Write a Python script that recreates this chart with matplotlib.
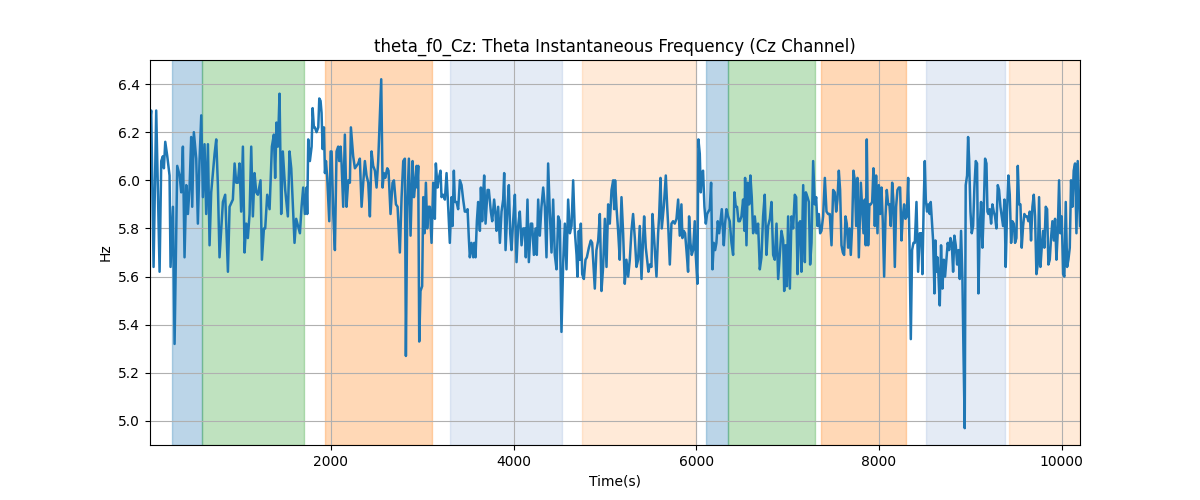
import matplotlib
matplotlib.use("Agg")
import matplotlib.pyplot as plt

time_s = [
    20, 33, 59, 88, 125, 143, 161, 172, 187, 209, 234, 245, 271, 289, 318, 344, 362, 380, 398, 417,
    435, 453, 471, 482, 500, 526, 544, 562, 581, 599, 617, 635, 654, 672, 690, 727, 745, 763, 781, 818,
    843, 873, 891, 927, 946, 964, 982, 1000, 1018, 1037, 1055, 1073, 1091, 1110, 1128, 1146, 1164, 1183, 1201, 1230,
    1245, 1267, 1281, 1303, 1329, 1354, 1376, 1390, 1405, 1420, 1438, 1456, 1474, 1500, 1529, 1547, 1566, 1584, 1602, 1620,
    1661, 1679, 1697, 1716, 1734, 1741, 1752, 1770, 1789, 1800, 1814, 1825, 1843, 1862, 1873, 1887, 1898, 1909, 1924, 1935,
    1946, 1960, 1982, 1997, 2008, 2026, 2044, 2062, 2080, 2091, 2106, 2117, 2135, 2153, 2171, 2190, 2208, 2219, 2244, 2263,
    2281, 2299, 2317, 2336, 2354, 2372, 2390, 2409, 2427, 2445, 2463, 2482, 2500, 2518, 2536, 2551, 2566, 2580, 2595, 2617,
    2631, 2653, 2675, 2690, 2712, 2730, 2755, 2774, 2792, 2810, 2821, 2836, 2854, 2872, 2894, 2909, 2920, 2938, 2945, 2956,
    2967, 2981, 2999, 3011, 3025, 3040, 3054, 3069, 3083, 3102, 3120, 3138, 3149, 3167, 3182, 3200, 3211, 3229, 3248, 3266,
    3284, 3302, 3321, 3332, 3346, 3357,
    3375, 3393, 3412, 3430, 3448, 3466, 3485, 3496, 3510, 3521, 3539, 3558, 3569, 3583, 3598, 3612, 3631, 3642, 3656, 3667,
    3678, 3693, 3715, 3729, 3751, 3766, 3787, 3802, 3813, 3831, 3850, 3868, 3886, 3897, 3912, 3933, 3948, 3963, 3977, 3995,
    4014, 4032, 4050, 4068, 4087, 4105, 4123, 4134, 4152, 4167, 4189, 4203, 4222, 4240, 4254, 4269, 4287, 4305, 4324, 4342,
    4360, 4378, 4397, 4415, 4433, 4451, 4470, 4488, 4506, 4524, 4543, 4561, 4579, 4597, 4616, 4634, 4652, 4670, 4689, 4699,
    4714, 4725, 4736, 4751, 4769, 4787, 4802, 4824, 4845, 4860, 4875, 4889, 4907, 4926, 4944, 4962, 4980, 4999, 5017, 5035,
    5053, 5072, 5090, 5101,
    5111, 5126, 5144, 5162, 5181, 5199, 5217, 5235, 5254, 5272, 5290, 5308, 5327, 5345, 5363, 5381, 5400, 5418, 5429, 5447,
    5462, 5476, 5491, 5509, 5520, 5538, 5564, 5582, 5593, 5608, 5622, 5644, 5666, 5680, 5695, 5710, 5728, 5746, 5764, 5783,
    5801, 5819, 5837, 5848, 5863, 5877, 5892, 5910, 5921, 5936, 5950, 5965, 5983, 5994, 6012, 6023, 6038, 6049, 6060, 6074,
    6089, 6104, 6118, 6133, 6147, 6162, 6177, 6191, 6206, 6220, 6235, 6250, 6264, 6279, 6301, 6315, 6330, 6348, 6366, 6385,
    6403, 6417, 6432, 6446, 6461, 6476, 6494, 6512, 6527, 6534, 6549, 6563, 6578, 6592, 6607, 6622, 6640, 6658, 6676, 6695,
    6713, 6731, 6749, 6768, 6786,
    6805, 6823, 6841, 6859, 6878, 6896, 6914, 6932, 6951, 6962, 6976, 6991, 7005, 7024, 7042, 7060, 7078, 7093, 7108, 7122,
    7137, 7151, 7170, 7188, 7199, 7217, 7232, 7246, 7261, 7279, 7297, 7312, 7326, 7341, 7356, 7370, 7388, 7407, 7425, 7443,
    7461, 7480, 7498, 7516, 7531, 7545, 7560, 7574, 7589, 7604, 7618, 7633, 7647, 7662, 7677, 7691, 7706, 7720, 7735, 7750,
    7764, 7779, 7801, 7815, 7830, 7844, 7855, 7866, 7881, 7895, 7910, 7925, 7939, 7954, 7968, 7983, 7998, 8012, 8027, 8041,
    8056, 8071, 8085, 8100, 8114, 8129, 8144, 8158, 8173, 8187, 8202, 8217, 8231, 8246, 8260, 8275, 8289, 8304, 8319, 8333,
    8348, 8362, 8377, 8392, 8410, 8428, 8446,
    8464, 8475, 8490, 8501, 8512, 8526, 8541, 8555, 8566, 8577, 8592, 8607, 8617, 8628, 8639, 8650, 8665, 8679, 8694, 8709,
    8723, 8738, 8752, 8767, 8782, 8796, 8811, 8825, 8840, 8855, 8869, 8884, 8898, 8913, 8924, 8938, 8949, 8964, 8975, 8986,
    9001, 9015, 9030, 9044, 9059, 9073, 9088, 9103, 9117, 9132, 9146, 9161, 9176, 9187, 9197, 9212, 9227, 9241, 9256, 9270,
    9285, 9300, 9314, 9329, 9343, 9358, 9373, 9387, 9402, 9416, 9431, 9446, 9460, 9475, 9489, 9504, 9519, 9533, 9548, 9562,
    9577, 9591, 9606, 9621, 9635, 9650, 9664, 9679, 9694, 9708, 9723, 9737, 9752, 9767, 9781, 9796, 9810, 9825, 9840, 9854,
    9869, 9883, 9898, 9913, 9927, 9942, 9956, 9971, 9985, 10000, 10015, 10029, 10044, 10059, 10073, 10088, 10102, 10117, 10131, 10146,
    10161, 10175, 10200,
]

freq_hz = [
    6.24, 6.29, 5.64, 6.29, 5.62, 6.08, 6.10, 6.05, 6.16, 6.10, 6.02, 5.64, 5.89, 5.32, 6.06, 6.02, 5.95, 6.14, 5.68, 5.98,
    5.86, 5.97, 6.18, 5.89, 6.20, 6.09, 5.82, 6.08, 6.27, 5.93, 6.15, 5.86, 6.15, 5.73, 5.95, 6.11, 6.17, 5.98, 5.68, 5.91,
    5.94, 5.62, 5.89, 5.92, 6.07, 5.99, 5.99, 6.07, 5.87, 6.14, 5.70, 5.82, 5.76, 5.86, 6.14, 5.85, 6.03, 5.95, 5.94, 6.00,
    5.67, 5.80, 5.80, 5.94, 5.88, 6.14, 6.19, 6.01, 6.24, 6.14, 6.36, 5.86, 6.12, 5.96, 5.85, 6.12, 6.05, 5.90, 5.74, 5.84,
    5.78, 5.89, 5.97, 5.86, 5.97, 5.86, 6.17, 6.08, 6.14, 6.30, 6.22, 6.22, 6.20, 6.22, 6.34, 6.33, 6.28, 6.13, 6.22, 6.03,
    6.08, 6.01, 5.83, 6.12, 6.12, 5.86, 5.71, 6.12, 6.14, 6.08, 6.14, 6.07, 5.89, 6.19, 5.89, 6.00, 5.99, 6.22, 6.10, 6.05,
    6.06, 6.07, 6.09, 5.89, 5.99, 6.08, 6.02, 5.99, 5.85, 6.12, 6.06, 6.04, 5.97, 6.08, 6.26, 6.42, 5.97, 6.03, 6.01, 6.05,
    6.04, 5.86, 5.99, 6.00, 5.90, 5.89, 5.70, 5.93, 6.08, 6.09, 5.27, 5.89, 6.09, 5.77, 6.08, 5.93, 5.97, 6.06, 5.97, 6.06,
    5.33, 5.54, 5.56, 5.93, 5.78, 5.99, 5.80, 5.89, 5.89, 5.74, 5.99, 5.84, 6.07, 5.97, 6.01, 6.04, 5.93, 5.94, 5.92, 6.03,
    5.89, 5.74, 5.93, 5.81, 6.04, 5.91,
    5.91, 5.88, 6.00, 5.98, 5.92, 5.87, 5.87, 5.88, 5.76, 5.68, 5.74, 5.68, 5.74, 5.68, 5.83, 5.91, 5.79, 5.97, 5.83, 5.94,
    6.02, 5.82, 5.96, 5.96, 5.87, 5.83, 5.92, 5.86, 5.79, 5.89, 5.74, 5.87, 5.92, 6.03, 5.71, 5.89, 5.98, 5.78, 5.71, 5.83,
    5.94, 5.66, 5.81, 5.87, 5.73, 5.80, 5.80, 5.68, 5.92, 5.66, 5.82, 5.82, 5.69, 5.80, 5.69, 5.92, 5.77, 5.89, 5.97, 5.89,
    5.68, 6.07, 5.86, 5.70, 5.92, 5.69, 5.63, 5.85, 5.83, 5.37, 5.66, 5.82, 5.63, 5.92, 5.78, 5.81, 6.00, 5.79, 5.69, 5.60,
    5.79, 5.67, 5.82, 5.61, 5.59, 5.67, 5.68, 5.72, 5.75, 5.74, 5.64, 5.55, 5.71, 5.75, 5.86, 5.54, 5.64, 5.84, 5.64, 5.90,
    5.82, 5.96, 6.00, 5.88,
    6.00, 5.89, 5.79, 5.67, 5.93, 5.78, 5.57, 5.67, 5.60, 5.67, 5.79, 5.86, 5.76, 5.64, 5.67, 5.81, 5.59, 5.76, 5.85, 5.72,
    5.67, 5.62, 5.65, 5.64, 5.86, 5.76, 5.60, 5.78, 5.85, 6.01, 5.80, 5.89, 6.02, 5.90, 5.79, 5.65, 5.82, 5.83, 5.82, 5.84,
    5.92, 5.77, 5.90, 5.76, 5.79, 5.78, 5.71, 5.62, 5.85, 5.74, 5.69, 5.71, 5.83, 5.69, 5.57, 6.17, 6.11, 5.95, 6.03, 6.04,
    5.89, 5.82, 5.86, 5.87, 5.88, 5.99, 5.63, 5.74, 5.71, 5.74, 5.83, 5.78, 5.83, 5.88, 5.73, 5.82, 5.88, 5.85, 5.83, 5.74,
    5.69, 5.95, 5.89, 5.89, 5.83, 5.83, 5.85, 5.92, 5.79, 6.01, 5.73, 5.99, 5.90, 6.02, 5.93, 5.78, 5.85, 5.78, 5.82, 5.63,
    5.68, 5.85, 5.94, 5.69, 5.81,
    5.84, 5.91, 5.69, 5.67, 5.82, 5.59, 5.69, 5.79, 5.75, 5.54, 5.73, 5.56, 5.85, 5.55, 5.85, 5.80, 5.94, 5.93, 5.61, 5.82,
    5.83, 5.62, 5.98, 5.66, 5.95, 5.93, 5.91, 5.65, 5.74, 6.08, 5.90, 5.93, 5.81, 5.86, 5.78, 5.79, 5.85, 6.01, 5.87, 5.86,
    5.86, 5.73, 5.96, 5.95, 5.87, 5.92, 6.04, 5.96, 5.73, 5.70, 5.69, 5.85, 5.82, 5.72, 5.80, 5.69, 5.81, 6.04, 6.00, 5.81,
    6.01, 5.68, 5.99, 5.89, 5.78, 5.92, 5.73, 6.17, 5.73, 5.90, 5.90, 5.91, 6.05, 5.81, 6.02, 5.78, 5.98, 5.86, 5.97, 5.83,
    5.60, 5.85, 5.96, 5.90, 5.90, 5.81, 5.99, 5.91, 5.64, 5.89, 5.96, 5.97, 5.97, 5.75, 5.85, 5.90, 5.84, 5.85, 6.01, 5.75,
    5.34, 5.71, 5.74, 5.74, 5.91, 5.62, 5.78,
    5.78, 5.61, 5.92, 6.08, 5.92, 5.87, 5.90, 5.86, 5.91, 5.84, 5.75, 5.53, 5.75, 5.62, 5.68, 5.61, 5.48, 5.73, 5.55, 5.67,
    5.60, 5.67, 5.74, 5.71, 5.76, 5.74, 5.62, 5.77, 5.73, 5.65, 5.71, 5.59, 5.79, 5.59, 5.30, 4.97, 5.98, 6.02, 6.18, 6.09,
    5.87, 5.78, 5.81, 5.97, 6.08, 6.07, 5.53, 5.81, 5.91, 5.72, 5.87, 6.09, 6.07, 5.87, 5.86, 5.88, 5.82, 5.90, 5.87, 5.85,
    5.80, 5.98, 5.96, 5.89, 5.85, 5.81, 5.92, 5.64, 5.88, 6.02, 5.94, 5.74, 5.83, 5.82, 5.74, 5.76, 6.06, 5.90, 5.90, 5.72,
    5.81, 5.86, 5.85, 5.85, 5.83, 5.87, 5.75, 5.89, 5.94, 5.85, 5.61, 5.65, 5.93, 5.64, 5.72, 5.79, 5.72, 5.89, 5.88, 5.65,
    5.67, 5.76, 5.83, 5.75, 5.84, 5.67, 5.78, 6.00, 5.78, 5.85, 5.61, 5.60, 5.91, 5.64, 5.67, 5.72, 6.00, 5.89, 6.04, 6.07,
    5.78, 6.08, 5.81,
]

# shaded intervals: (start, end, colour, alpha)
span_start = [260, 588, 1934, 3302, 4747, 6104, 6345, 7362, 8512, 9420]
span_end = [588, 1705, 3105, 4528, 5995, 6345, 7297, 8293, 9376, 10200]
span_color = ["tab:blue", "tab:green", "tab:orange", "#4673bf", "tab:orange",
              "tab:blue", "tab:green", "tab:orange", "#4673bf", "tab:orange"]
span_alpha = [0.3, 0.3, 0.3, 0.14, 0.16, 0.3, 0.3, 0.3, 0.14, 0.16]

fig, ax = plt.subplots(figsize=(12, 5), dpi=100)
for s, e, c, a in zip(span_start, span_end, span_color, span_alpha):
    ax.axvspan(s, e, color=c, alpha=a)
ax.plot(time_s, freq_hz, color="tab:blue", linewidth=1.8)
ax.set_xlim(time_s[0], time_s[-1])
ax.set_ylim(4.9, 6.5)
ax.grid(True)
ax.set_title("theta_f0_Cz: Theta Instantaneous Frequency (Cz Channel)")
ax.set_xlabel("Time(s)")
ax.set_ylabel("Hz")
fig.savefig("out.png")
